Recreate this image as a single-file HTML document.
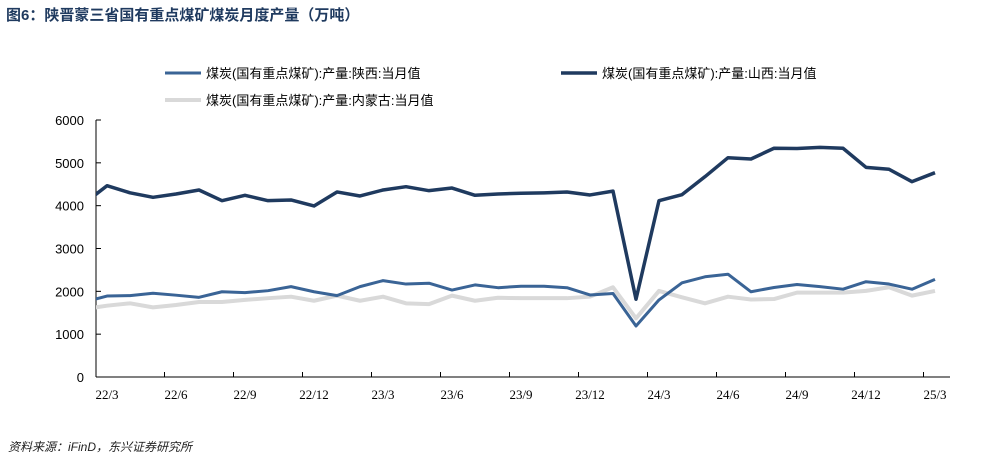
<!DOCTYPE html>
<html><head><meta charset="utf-8">
<style>
body{margin:0;width:997px;height:462px;background:#fff;overflow:hidden;font-family:"Liberation Sans","Noto Sans CJK SC",sans-serif;}
#title{position:absolute;left:6px;top:4px;font-size:15px;font-weight:bold;color:#1f3a5f;}
#src{position:absolute;left:8px;top:438px;font-size:12px;font-style:italic;color:#222;}
svg{position:absolute;left:0;top:0;}
</style></head><body>
<div id="title">图6：陕晋蒙三省国有重点煤矿煤炭月度产量（万吨）</div>
<div id="src">资料来源：iFinD，东兴证券研究所</div>
<svg id="chart" width="997" height="462"></svg>
<script>
const categories=["22/2","22/3","22/4","22/5","22/6","22/7","22/8","22/9","22/10","22/11","22/12","23/1","23/2","23/3","23/4","23/5","23/6","23/7","23/8","23/9","23/10","23/11","23/12","24/1","24/2","24/3","24/4","24/5","24/6","24/7","24/8","24/9","24/10","24/11","24/12","25/1","25/2","25/3"];
const shaanxi=[1750,1890,1900,1955,1910,1860,1990,1970,2015,2110,1990,1900,2110,2250,2170,2190,2030,2150,2085,2120,2120,2085,1915,1950,1190,1800,2200,2340,2400,1990,2090,2160,2110,2050,2225,2170,2050,2280];
const shanxi=[4050,4466,4300,4195,4273,4366,4117,4242,4117,4133,3993,4320,4226,4366,4443,4350,4412,4242,4273,4290,4300,4320,4250,4340,1815,4117,4257,4677,5120,5090,5340,5335,5360,5340,4895,4850,4560,4770];
const neimenggu=[1585,1665,1720,1625,1680,1750,1750,1800,1840,1875,1780,1900,1780,1875,1720,1700,1900,1780,1850,1840,1840,1840,1875,2095,1370,2010,1860,1720,1875,1810,1820,1970,1970,1970,2010,2095,1900,2010];
const yTicks=[0,1000,2000,3000,4000,5000,6000];
const xLabels=["22/3","22/6","22/9","22/12","23/3","23/6","23/9","23/12","24/3","24/6","24/9","24/12","25/3"];

const NS="http://www.w3.org/2000/svg";
const svg=document.getElementById('chart');
const L=96,R=950,T=120,B=377;
const y=v=>B-(v/6000)*(B-T);
const x=i=>84+23*i;
function mk(tag,attrs,parent){const e=document.createElementNS(NS,tag);for(const k in attrs)e.setAttribute(k,attrs[k]);(parent||svg).appendChild(e);return e;}
const defs=mk('defs',{});
const cp=mk('clipPath',{id:'clip'},defs);mk('rect',{x:L,y:0,width:R-L,height:462},cp);

const ax=mk('line',{x1:L,y1:T,x2:L,y2:B,stroke:'#000','stroke-width':1});


const bx=mk('line',{x1:L,y1:B,x2:R,y2:B,stroke:'#000','stroke-width':1});


yTicks.forEach(t=>{
  const tk=mk('line',{x1:L,y1:y(t),x2:L+5,y2:y(t),stroke:'#000'});
  
  
  const tx=mk('text',{x:L-12,y:y(t)+5,'text-anchor':'end','font-size':13,fill:'#000'});
  tx.textContent=t;
  
  
});
xLabels.forEach((lab,j)=>{
  const i=1+3*j;
  if(j>0){const tk=mk('line',{x1:x(i-0.5),y1:B,x2:x(i-0.5),y2:B-5,stroke:'#000'});
  
  }
  const tx=mk('text',{x:x(i),y:B+22,'text-anchor':'middle','font-size':13,fill:'#000','font-family':'Liberation Serif, serif'});
  tx.textContent=lab;
  
  
});
function series(data,color,w,name){
  const p=mk('polyline',{points:data.map((v,i)=>x(i)+','+y(v)).join(' '),fill:'none',stroke:color,'stroke-width':w,'stroke-linejoin':'round','clip-path':'url(#clip)'});
  
  
}
series(neimenggu,'#d9d9d9',4,'series-neimenggu');
series(shaanxi,'#3a6496',3,'series-shaanxi');
series(shanxi,'#1f3a5f',3.5,'series-shanxi');

function legend(x0,y0,color,w,label,name){
  const g=mk('g',{});
  
  
  mk('line',{x1:x0,y1:y0,x2:x0+36,y2:y0,stroke:color,'stroke-width':w},g);
  const t=mk('text',{x:x0+41,y:y0+5,'font-size':13,fill:'#000'},g);t.textContent=label;
}
legend(165,73,'#3a6496',3,'煤炭(国有重点煤矿):产量:陕西:当月值','legend-shaanxi');
legend(561,73,'#1f3a5f',3.5,'煤炭(国有重点煤矿):产量:山西:当月值','legend-shanxi');
legend(165,100,'#d9d9d9',4,'煤炭(国有重点煤矿):产量:内蒙古:当月值','legend-neimenggu');
</script>
</body></html>
